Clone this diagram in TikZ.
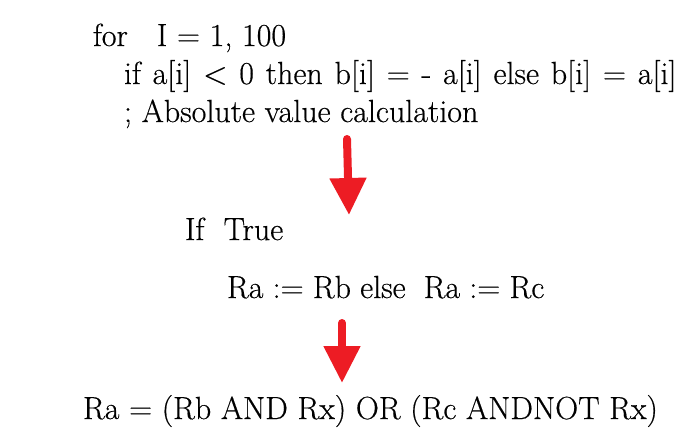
\documentclass[tikz,border=0pt]{standalone}
\usepackage{fontspec}
\newfontfamily\codefont[FakeBold=0.4]{Latin Modern Roman}
\usetikzlibrary{arrows.meta}
\definecolor{arrowred}{HTML}{ED1C24}
\tikzset{
  code/.style={anchor=base west, inner sep=0pt, outer sep=0pt, font=\codefont\fontsize{32}{40}\selectfont, text=black},
  bigarrow/.style={draw=arrowred, line width=8pt, line cap=round, -{Triangle[length=37pt,width=35pt]}}
}
\begin{document}
\begin{tikzpicture}[x=1pt,y=-1pt]
\useasboundingbox[fill=white] (0,0) rectangle (680,440);
\node[code] (l1) at (93,46) {for\hspace{29pt}I = 1, 100};
\node[code] (l2) at (124,84) {\spaceskip=11.8pt\relax if a[i] < 0 then b[i] = - a[i] else b[i] = a[i]};
\node[code] (l3) at (124,122) {; Absolute value calculation};
\node[code] (l4) at (185,240) {If~~True};
\node[code] (l5) at (227,298) {\spaceskip=9.2pt\relax Ra := Rb else\hspace{18pt}Ra := Rc};
\node[code] (l6) at (83,419) {Ra = (Rb AND Rx) OR (Rc ANDNOT Rx)};
\coordinate (a1s) at (347,139);
\coordinate (a1e) at (349,215);
\coordinate (a2s) at (342,323);
\coordinate (a2e) at (342,383);
\draw[bigarrow] (a1s) -- (a1e);
\draw[bigarrow] (a2s) -- (a2e);
\end{tikzpicture}
\end{document}
